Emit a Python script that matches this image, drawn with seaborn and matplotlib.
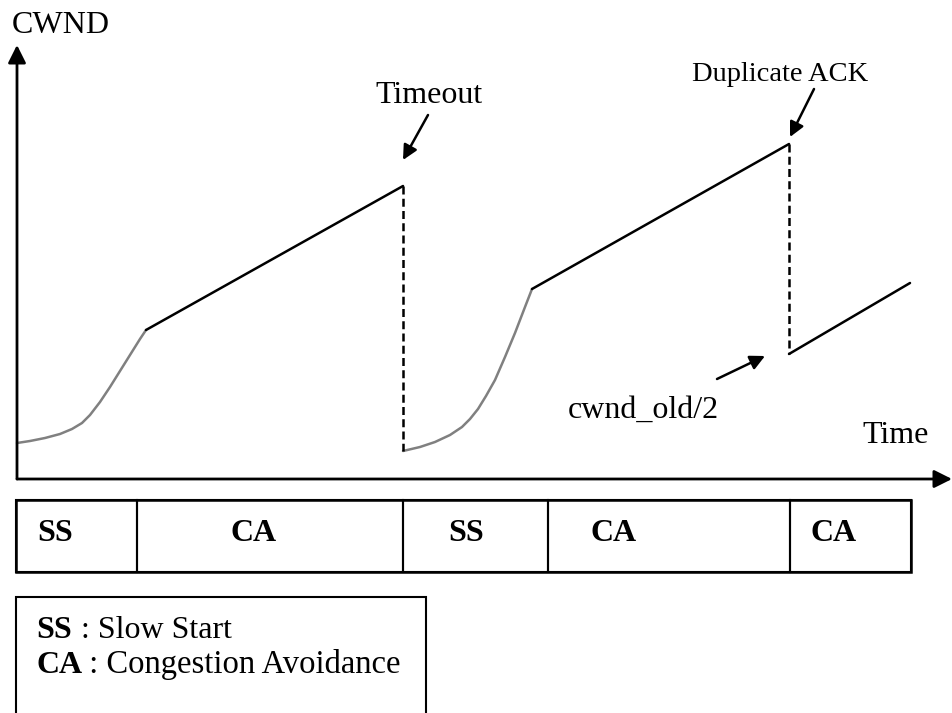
import matplotlib
matplotlib.use("Agg")
import matplotlib.pyplot as plt
import seaborn as sns
import pandas as pd
from matplotlib.patches import Rectangle

# time runs along the x axis, cwnd up the y axis (units)
ss1_time = [0, 13, 28, 43, 55, 65, 73, 83, 93, 103, 113, 123, 129]
ss1_cwnd = [36, 38, 41, 45, 50, 56, 64, 77, 92, 108, 124, 140, 149]
ca1_time = [129, 386]
ca1_cwnd = [149, 293]
ss2_time = [386, 403, 418, 433, 445, 453, 461, 469, 478, 488, 498, 508, 515]
ss2_cwnd = [28, 32, 37, 44, 52, 60, 70, 83, 99, 122, 146, 172, 190]
ca2_time = [515, 772]
ca2_cwnd = [190, 335]
ca3_time = [772, 893]
ca3_cwnd = [125, 196]

drops_time = [386, 772]
drops_top = [293, 335]
drops_bottom = [28, 125]

phase_edges = [-1, 120, 386, 531, 773, 894]
phase_labels = ["SS", "CA", "SS", "CA", "CA"]
phase_label_time = [20, 213, 431, 573, 793]

sns.set_theme(style="white")
plt.rcParams["font.family"] = ["Liberation Serif", "DejaVu Serif"]
plt.rcParams["text.color"] = "black"

fig = plt.figure(figsize=(9.52, 7.13), dpi=100)
ax = fig.add_axes([0, 0, 1, 1])
ax.set_xlim(-17, 935)
ax.set_ylim(-234, 479)
ax.axis("off")

gray = "#808080"
for t, c, col in [(ss1_time, ss1_cwnd, gray), (ca1_time, ca1_cwnd, "black"),
                  (ss2_time, ss2_cwnd, gray), (ca2_time, ca2_cwnd, "black"),
                  (ca3_time, ca3_cwnd, "black")]:
    df = pd.DataFrame({"time": t, "cwnd": c})
    sns.lineplot(data=df, x="time", y="cwnd", ax=ax, color=col, lw=1.8,
                 sort=False, estimator=None)

for t, top, bot in zip(drops_time, drops_top, drops_bottom):
    ax.plot([t, t], [top, bot], color="black", lw=1.8, ls=(0, (3.2, 1.7)))

# axes with arrow heads
axis_kw = dict(arrowstyle="-|>,head_length=0.4,head_width=0.2", color="black",
               lw=2.0, shrinkA=0, shrinkB=0, mutation_scale=27)
ax.annotate("", xy=(0, 434), xytext=(0, 0), arrowprops=axis_kw)
ax.annotate("", xy=(935, 0), xytext=(0, 0), arrowprops=axis_kw)
ax.text(-5, 446, "CWND", fontsize=23, va="baseline", ha="left")
ax.text(845, 36, "Time", fontsize=23, va="baseline", ha="left")

# event annotations
small_kw = dict(arrowstyle="-|>,head_length=0.4,head_width=0.2", color="black",
                lw=1.8, shrinkA=0, shrinkB=0, mutation_scale=22)
ax.annotate("", xy=(386, 319), xytext=(411, 364), arrowprops=small_kw)
ax.annotate("", xy=(773, 342), xytext=(797, 390), arrowprops=small_kw)
ax.annotate("", xy=(748, 123), xytext=(700, 100), arrowprops=small_kw)
ax.text(412, 376, "Timeout", fontsize=23, va="baseline", ha="center")
ax.text(675, 398, "Duplicate ACK", fontsize=20.5, va="baseline", ha="left")
ax.text(551, 61, "cwnd_old/2", fontsize=23, va="baseline", ha="left")

# phase bar
bar_top, bar_bot = -21, -93
for i, lab in enumerate(phase_labels):
    x0, x1 = phase_edges[i], phase_edges[i + 1]
    ax.add_patch(Rectangle((x0, bar_bot), x1 - x0, bar_top - bar_bot,
                           fill=False, ec="black", lw=1.5))
    ax.text(phase_label_time[i], -62, lab, fontsize=23, fontweight="bold",
            va="baseline", ha="left")
ax.add_patch(Rectangle((phase_edges[0], bar_bot), phase_edges[-1] - phase_edges[0],
                       bar_top - bar_bot, fill=False, ec="black", lw=1.8))

# key box
ax.add_patch(Rectangle((-1, -260), 410, 142, fill=False, ec="black", lw=1.5))
ax.text(19, -159, "SS", fontsize=23, fontweight="bold", va="baseline")
ax.text(56, -159, " : Slow Start", fontsize=23, va="baseline")
ax.text(19, -194, "CA", fontsize=23, fontweight="bold", va="baseline")
ax.text(64, -194, " : Congestion Avoidance", fontsize=23.5, va="baseline")

fig.savefig("out.png", dpi=100, facecolor="white")
